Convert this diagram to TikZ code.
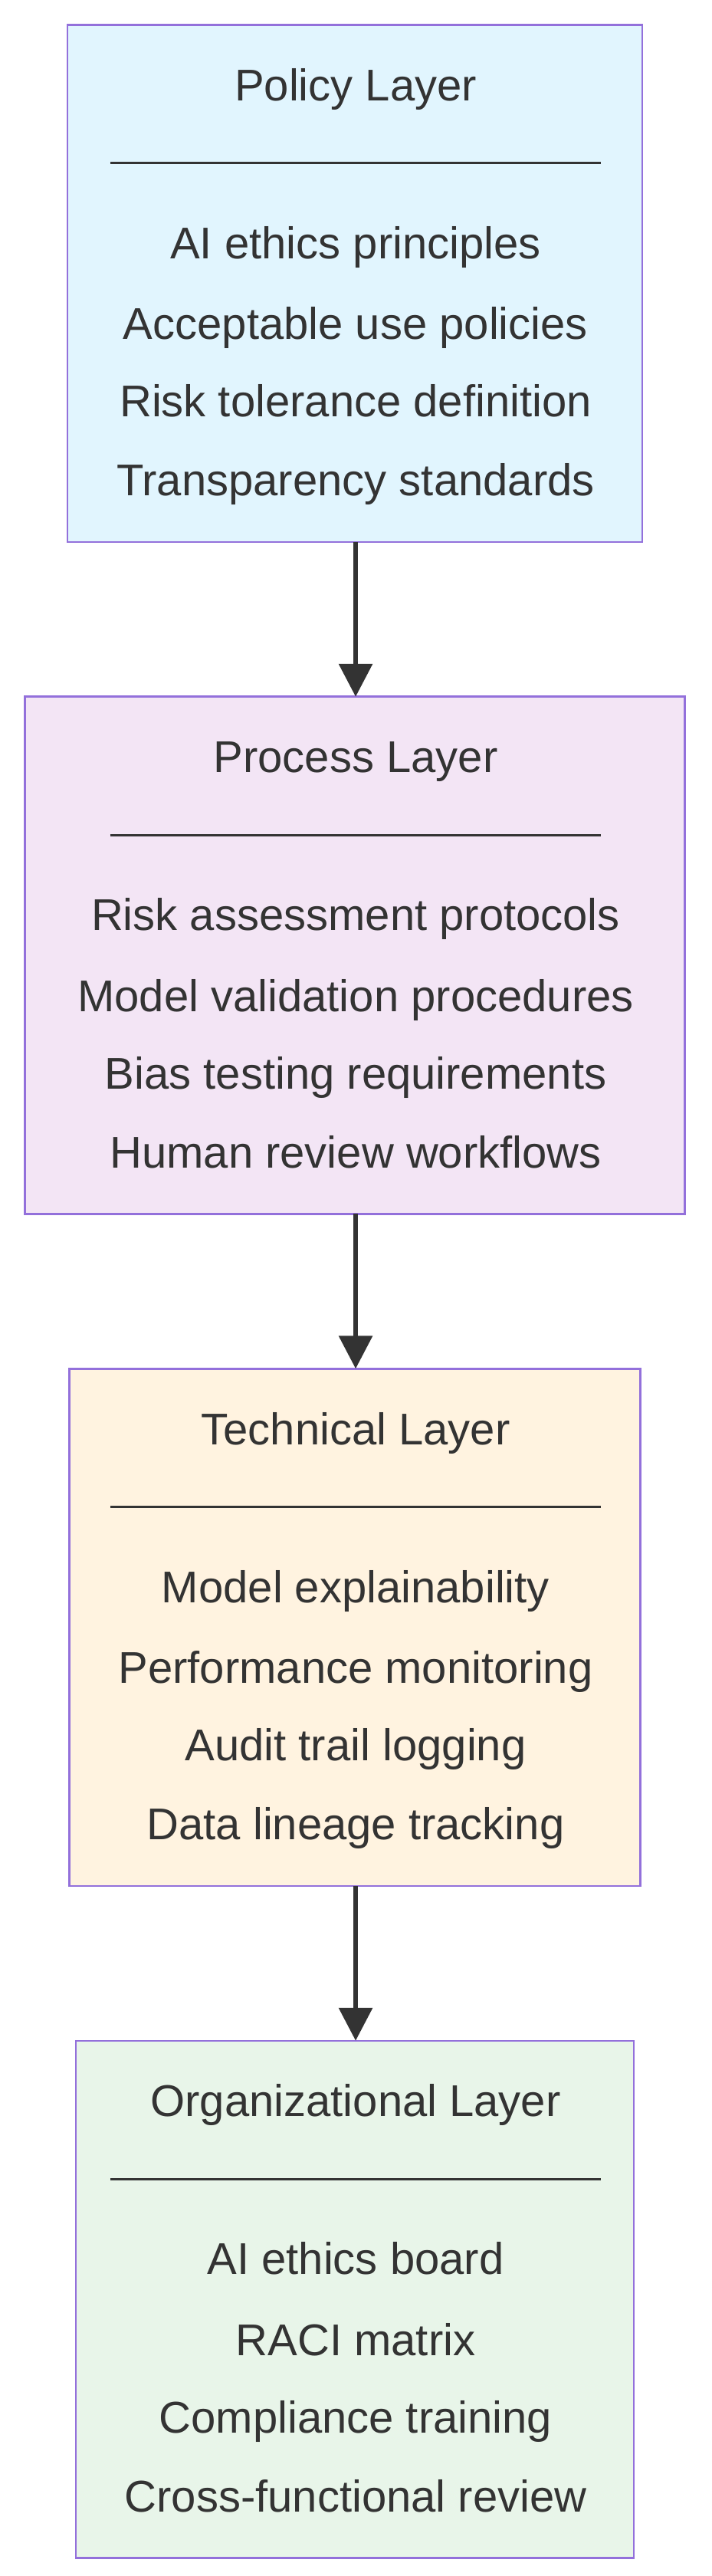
\documentclass[tikz,border=0pt]{standalone}
\usepackage{fontspec}
\setmainfont{Liberation Sans}
\usetikzlibrary{arrows.meta}
\definecolor{bd}{HTML}{9370DB}
\definecolor{tx}{HTML}{333333}
\definecolor{c1}{HTML}{E1F5FE}
\definecolor{c2}{HTML}{F3E5F5}
\definecolor{c3}{HTML}{FFF3E0}
\definecolor{c4}{HTML}{E8F5E9}
\tikzset{x=1pt,y=-1pt,
 box/.style={draw=bd,line width=1.2pt},
 t/.style={text=tx,font=\fontsize{27}{30}\selectfont,anchor=base},
 arr/.style={draw=tx,line width=3pt,-{Triangle[length=20pt,width=20pt]}}}
\newcommand{\layer}[8]{% name, x1, x2, ytop, fill, title, l1..l4 via #8
 \fill[#5] (#2,#4) rectangle (#3,#4+314);
 \draw[box] (#2,#4) rectangle (#3,#4+314);
 \node[t] at (216,#4+46) {#6};
 \draw[tx,line width=1.6pt] (67,#4+84) -- (365,#4+84);
 \coordinate (#1t) at (216,#4); \coordinate (#1b) at (216,#4+314);
 #8}
\begin{document}
\begin{tikzpicture}
\useasboundingbox (0,0) rectangle (432,1564);
\fill[white] (0,0) rectangle (432,1564);
\layer{a}{41}{390}{15}{c1}{Policy Layer}{}{%
 \node[t] at (216,157) {AI ethics principles};
 \node[t] at (216,206) {Acceptable use policies};
 \node[t] at (216,253) {Risk tolerance definition};
 \node[t] at (216,301) {Transparency standards};}
\layer{b}{15}{416}{423}{c2}{Process Layer}{}{%
 \node[t] at (216,565) {Risk assessment protocols};
 \node[t] at (216,614) {Model validation procedures};
 \node[t] at (216,661) {Bias testing requirements};
 \node[t] at (216,709) {Human review workflows};}
\layer{c}{42}{389}{831}{c3}{Technical Layer}{}{%
 \node[t] at (216,973) {Model explainability};
 \node[t] at (216,1022) {Performance monitoring};
 \node[t] at (216,1069) {Audit trail logging};
 \node[t] at (216,1117) {Data lineage tracking};}
\layer{d}{46}{385}{1239}{c4}{Organizational Layer}{}{%
 \node[t] at (216,1381) {AI ethics board};
 \node[t] at (216,1430) {RACI matrix};
 \node[t] at (216,1477) {Compliance training};
 \node[t] at (216,1525) {Cross-functional review};}
\draw[arr] (ab) -- (bt);
\draw[arr] (bb) -- (ct);
\draw[arr] (cb) -- (dt);
\end{tikzpicture}
\end{document}
